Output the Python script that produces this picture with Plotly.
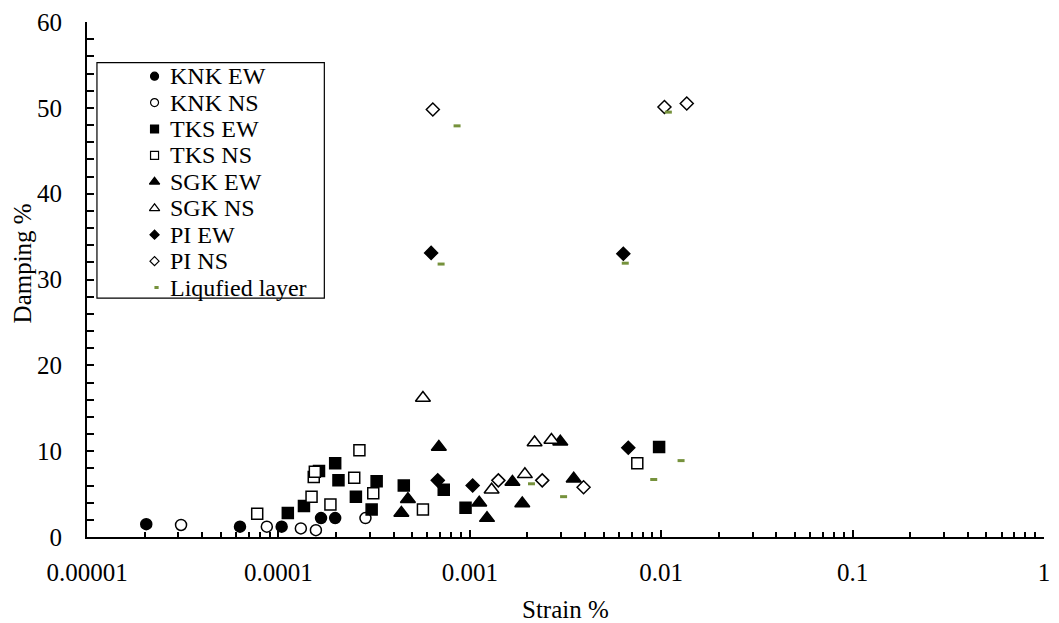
import plotly.graph_objects as go

# ---- data: strain (%) vs damping (%) per station / component ----
knk_ew_x = [2.04e-5, 6.3e-5, 1.04e-4, 1.67e-4, 1.98e-4]
knk_ew_y = [1.5, 1.2, 1.2, 2.2, 2.2]
knk_ns_x = [3.1e-5, 8.7e-5, 1.31e-4, 1.57e-4, 2.85e-4]
knk_ns_y = [1.4, 1.2, 1.0, 0.8, 2.2]
tks_ew_x = [1.12e-4, 1.36e-4, 1.63e-4, 1.98e-4, 2.06e-4, 2.54e-4, 3.07e-4, 3.26e-4, 4.52e-4, 7.31e-4, 9.5e-4, 9.75e-3]
tks_ew_y = [2.8, 3.6, 7.7, 8.6, 6.6, 4.7, 3.2, 6.5, 6.0, 5.5, 3.4, 10.5]
tks_ns_x = [7.75e-5, 1.49e-4, 1.53e-4, 1.55e-4, 1.87e-4, 2.49e-4, 2.65e-4, 3.13e-4, 5.69e-4, 7.5e-3]
tks_ns_y = [2.7, 4.7, 7.0, 7.6, 3.8, 6.9, 10.1, 5.1, 3.2, 8.6]
sgk_ew_x = [4.39e-4, 4.75e-4, 6.89e-4, 1.12e-3, 1.23e-3, 1.67e-3, 1.88e-3, 2.97e-3, 3.49e-3]
sgk_ew_y = [2.8, 4.4, 10.5, 4.0, 2.2, 6.4, 3.9, 11.1, 6.8]
sgk_ns_x = [5.69e-4, 1.30e-3, 1.94e-3, 2.18e-3, 2.67e-3]
sgk_ns_y = [16.2, 5.5, 7.3, 11.0, 11.3]
pi_ew_x = [6.28e-4, 6.8e-4, 1.035e-3, 6.34e-3, 6.73e-3]
pi_ew_y = [33.1, 6.6, 6.0, 33.0, 10.4]
pi_ns_x = [6.41e-4, 1.41e-3, 2.39e-3, 3.93e-3, 1.04e-2, 1.36e-2]
pi_ns_y = [49.8, 6.6, 6.6, 5.8, 50.1, 50.5]
liq_x = [7.08e-4, 8.58e-4, 2.10e-3, 3.09e-3, 6.49e-3, 9.14e-3, 1.09e-2, 1.27e-2]
liq_y = [31.8, 47.9, 6.2, 4.7, 31.9, 6.7, 49.5, 8.9]

series_names = ["KNK EW", "KNK NS", "TKS EW", "TKS NS", "SGK EW", "SGK NS",
                "PI EW", "PI NS", "Liqufied layer"]

x_tick_vals = [1e-5, 1e-4, 1e-3, 1e-2, 1e-1, 1]
x_tick_text = ["0.00001", "0.0001", "0.001", "0.01", "0.1", "1"]
x_minor_vals = [k * 10.0 ** e for e in range(-5, 0) for k in range(2, 10)]

FONT = "Liberation Serif, Times New Roman, serif"
BLACK = "#000000"
GREEN = "#76923C"

# (x, y, symbol, fill, plot size, legend size)
styles = [
    (knk_ew_x, knk_ew_y, "circle", BLACK, 11, 8),
    (knk_ns_x, knk_ns_y, "circle", "white", 11, 8),
    (tks_ew_x, tks_ew_y, "square", BLACK, 11, 8),
    (tks_ns_x, tks_ns_y, "square", "white", 11, 8),
    (sgk_ew_x, sgk_ew_y, "triangle-up", BLACK, 13, 9),
    (sgk_ns_x, sgk_ns_y, "triangle-up", "white", 13, 9),
    (pi_ew_x, pi_ew_y, "diamond", BLACK, 10, 7),
    (pi_ns_x, pi_ns_y, "diamond", "white", 10, 7),
]

fig = go.Figure()

for (xs, ys, sym, fill, size, _), name in zip(styles, series_names):
    fig.add_trace(go.Scatter(
        x=xs, y=ys, mode="markers", name=name, showlegend=False,
        cliponaxis=False,
        marker=dict(symbol=sym, size=size, color=fill,
                    line=dict(color=BLACK, width=1.5)),
    ))

fig.add_trace(go.Scatter(
    x=liq_x, y=liq_y, mode="markers", name=series_names[-1], showlegend=False,
    marker=dict(symbol="line-ew", size=5, color=GREEN,
                line=dict(color=GREEN, width=3)),
))

# ---- legend drawn on its own overlay axes (one row per series) ----
leg_rows = list(range(len(series_names)))
for i, ((_, _, sym, fill, _, lsize), name) in enumerate(zip(styles, series_names)):
    fig.add_trace(go.Scatter(
        x=[58], y=[leg_rows[i]], xaxis="x2", yaxis="y2", mode="markers",
        showlegend=False, hoverinfo="skip",
        marker=dict(symbol=sym, size=lsize, color=fill,
                    line=dict(color=BLACK, width=1.2)),
    ))
fig.add_trace(go.Scatter(
    x=[60], y=[leg_rows[-1]], xaxis="x2", yaxis="y2", mode="markers",
    showlegend=False, hoverinfo="skip",
    marker=dict(symbol="line-ew", size=3, color=GREEN,
                line=dict(color=GREEN, width=3)),
))

annotations = []
for i, name in enumerate(series_names):
    annotations.append(dict(
        x=72, y=leg_rows[i], xref="x2", yref="y2", text=name,
        showarrow=False, xanchor="left", yanchor="middle",
        font=dict(family=FONT, size=24, color=BLACK),
    ))

annotations += [
    dict(text="Damping %", x=-0.0675, y=0.532, xref="paper", yref="paper",
         textangle=-90, showarrow=False, xanchor="center", yanchor="middle",
         font=dict(family=FONT, size=25, color=BLACK)),
    dict(text="Strain %", x=0.5, y=-0.141, xref="paper", yref="paper",
         showarrow=False, xanchor="center", yanchor="middle",
         font=dict(family=FONT, size=25, color=BLACK)),
]

fig.update_layout(
    width=1059, height=623,
    margin=dict(l=87, r=9, t=20, b=86, pad=0),
    paper_bgcolor="white", plot_bgcolor="white",
    font=dict(family=FONT, size=25, color=BLACK),
    showlegend=False,
    annotations=annotations,
    shapes=[dict(type="rect", xref="x2 domain", yref="y2 domain",
                 x0=0, x1=1, y0=0, y1=1,
                 line=dict(color=BLACK, width=1.2), fillcolor="rgba(0,0,0,0)")],
    xaxis=dict(
        type="log", range=[-5, 0],
        showline=True, linecolor=BLACK, linewidth=2,
        showgrid=False, zeroline=False,
        tickmode="array", tickvals=x_tick_vals, ticktext=x_tick_text,
        ticks="inside", ticklen=7, tickwidth=2, tickcolor=BLACK,
        ticklabelstandoff=12,
        tickfont=dict(family=FONT, size=25, color=BLACK),
        minor=dict(tickmode="array", tickvals=x_minor_vals, ticks="inside",
                   ticklen=5, tickwidth=1.5, tickcolor=BLACK, showgrid=False),
    ),
    yaxis=dict(
        range=[0, 60],
        showline=True, linecolor=BLACK, linewidth=2,
        showgrid=False, zeroline=False,
        tickmode="linear", tick0=0, dtick=10,
        ticks="inside", ticklen=7, tickwidth=1.5, tickcolor=BLACK,
        ticklabelstandoff=18,
        tickfont=dict(family=FONT, size=25, color=BLACK),
        minor=dict(dtick=2, ticks="inside", ticklen=7, tickwidth=1.5,
                   tickcolor=BLACK, showgrid=False),
    ),
    xaxis2=dict(domain=[0.0104, 0.248], range=[0, 229], visible=False,
                anchor="y2", fixedrange=True),
    yaxis2=dict(domain=[0.464, 0.921], range=[8.396, -0.509], visible=False,
                anchor="x2", fixedrange=True),
)

fig.write_html("out.html")
